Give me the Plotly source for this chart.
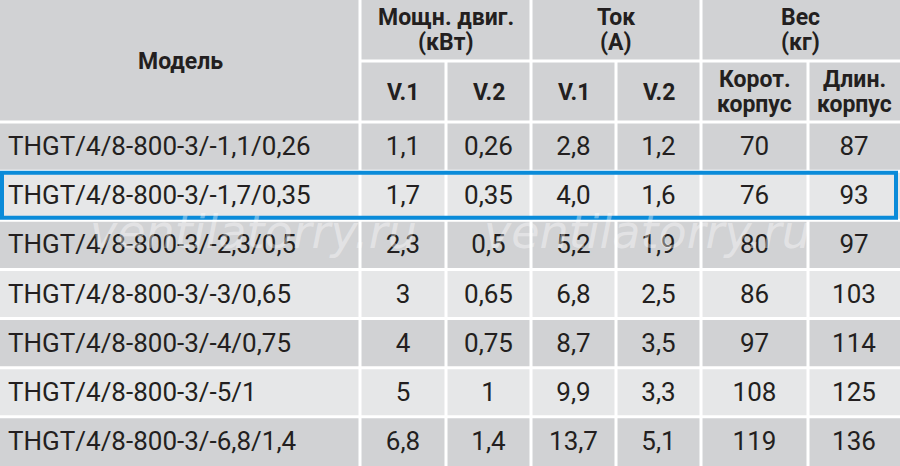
import plotly.graph_objects as go

# =========================================================
# DATA
# =========================================================

models = [
    "THGT/4/8-800-3/-1,1/0,26",
    "THGT/4/8-800-3/-1,7/0,35",
    "THGT/4/8-800-3/-2,3/0,5",
    "THGT/4/8-800-3/-3/0,65",
    "THGT/4/8-800-3/-4/0,75",
    "THGT/4/8-800-3/-5/1",
    "THGT/4/8-800-3/-6,8/1,4",
]
power_v1 = ["1,1", "1,7", "2,3", "3", "4", "5", "6,8"]
power_v2 = ["0,26", "0,35", "0,5", "0,65", "0,75", "1", "1,4"]
current_v1 = ["2,8", "4,0", "5,2", "6,8", "8,7", "9,9", "13,7"]
current_v2 = ["1,2", "1,6", "1,9", "2,5", "3,5", "3,3", "5,1"]
weight_short = ["70", "76", "80", "86", "97", "108", "119"]
weight_long = ["87", "93", "97", "103", "114", "125", "136"]

group_labels = [["Мощн. двиг.", "(кВт)"], ["Ток", "(А)"], ["Вес", "(кг)"]]
sub_labels = [["V.1"], ["V.2"], ["V.1"], ["V.2"],
              ["Корот.", "корпус"], ["Длин.", "корпус"]]
highlight_row = 1

# =========================================================
# LAYOUT GEOMETRY (pixels)
# =========================================================

W, H = 900, 466
col_edges = [0, 360, 446, 531, 616, 701, 808, 900]
head1, head2 = 61, 122
row_h = (H - head2) / len(models)

DARK = "#d1d2d4"
LIGHT = "#e6e7e8"
TEXT = "#231f20"
LINE = "#ffffff"
BLUE = "#0a8bd9"
FONT = "Roboto"

fig = go.Figure()
shapes = []

# backgrounds
shapes.append(dict(type="rect", x0=0, x1=W, y0=0, y1=head2,
                   fillcolor=DARK, line_width=0, layer="below"))
for i in range(len(models)):
    y0 = head2 + i * row_h
    shapes.append(dict(type="rect", x0=0, x1=W, y0=y0, y1=y0 + row_h,
                       fillcolor=DARK if i % 2 == 0 else LIGHT,
                       line_width=0, layer="below"))

# grid lines
def hline(y, x0=0, x1=W):
    shapes.append(dict(type="line", x0=x0, x1=x1, y0=y, y1=y,
                       line=dict(color=LINE, width=3), layer="below"))

def vline(x, y0=0, y1=H):
    shapes.append(dict(type="line", x0=x, x1=x, y0=y0, y1=y1,
                       line=dict(color=LINE, width=3), layer="below"))

hline(head1, x0=col_edges[1])
for i in range(len(models)):
    hline(head2 + i * row_h)
for k in (1, 3, 5):
    vline(col_edges[k])
for k in (2, 4, 6):
    vline(col_edges[k], y0=head1)

# highlighted row
y0 = head2 + highlight_row * row_h
shapes.append(dict(type="rect", x0=2, x1=W - 4, y0=y0 + 1.5, y1=y0 + row_h - 2.5,
                   line=dict(color=BLUE, width=4), fillcolor="rgba(0,0,0,0)"))

# =========================================================
# TEXT
# =========================================================

centers = [(col_edges[k] + col_edges[k + 1]) / 2 for k in range(len(col_edges) - 1)]
row_y = [head2 + (i + 0.5) * row_h + 2 for i in range(len(models))]

fig.add_trace(go.Scatter(
    x=[8] * len(models), y=row_y, text=models, mode="text",
    textposition="middle right", cliponaxis=False, hoverinfo="skip",
    textfont=dict(family=FONT, size=26, color=TEXT),
))

for k, col in enumerate([power_v1, power_v2, current_v1, current_v2,
                         weight_short, weight_long]):
    fig.add_trace(go.Scatter(
        x=[centers[k + 1]] * len(col), y=row_y, text=col, mode="text",
        textposition="middle center", cliponaxis=False, hoverinfo="skip",
        textfont=dict(family=FONT, size=26, color=TEXT),
    ))

head_font = dict(family=FONT, size=23, color=TEXT, weight="bold")
annotations = [dict(x=centers[0], y=head2 / 2, text="Модель",
                    showarrow=False, font=head_font)]


def add_lines(xc, yc, lines, step=25):
    top = yc - step * (len(lines) - 1) / 2
    for j, line in enumerate(lines):
        annotations.append(dict(x=xc, y=top + j * step, text=line,
                                showarrow=False, font=head_font))


for g, lines in enumerate(group_labels):
    xc = (col_edges[1 + 2 * g] + col_edges[3 + 2 * g]) / 2
    add_lines(xc, 30, lines)
for k, lines in enumerate(sub_labels):
    add_lines(centers[k + 1], 92, lines)

# watermark
for xc in (253, 647):
    annotations.append(dict(x=xc, y=232, text="ventilatorry.ru",
                            showarrow=False,
                            font=dict(family="DejaVu Sans", size=46, style="italic",
                                      color="rgba(255,255,255,0.4)")))

fig.update_layout(
    width=W, height=H,
    margin=dict(l=0, r=0, t=0, b=0),
    paper_bgcolor="white", plot_bgcolor="white",
    showlegend=False,
    shapes=shapes,
    annotations=annotations,
    xaxis=dict(range=[0, W], visible=False, fixedrange=True),
    yaxis=dict(range=[H, 0], visible=False, fixedrange=True),
)

fig.write_html("out.html", config={"displayModeBar": False},
               post_script="document.body.style.margin='0';"
                           "document.body.style.overflow='hidden';")
